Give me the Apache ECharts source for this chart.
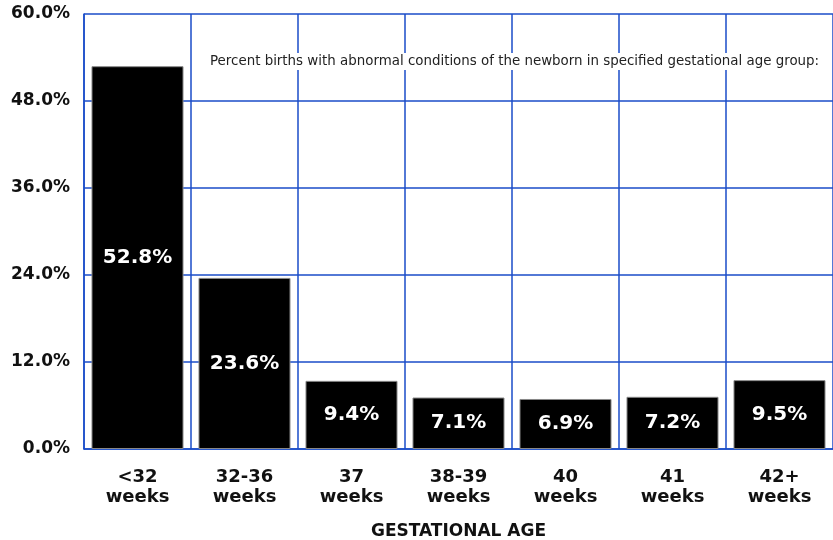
<!DOCTYPE html>
<html>
<head>
<meta charset="utf-8">
<script src="https://cdn.jsdelivr.net/npm/echarts@6/dist/echarts.min.js"></script>
<style>
html,body{margin:0;padding:0;background:#fff;}
#chart{width:833px;height:540px;}
</style>
</head>
<body>
<div id="chart"></div>
<script>
// Gestational age groups and share of births with abnormal newborn conditions
const categories = ['<32\nweeks', '32-36\nweeks', '37\nweeks', '38-39\nweeks', '40\nweeks', '41\nweeks', '42+\nweeks'];
const values = [52.8, 23.6, 9.4, 7.1, 6.9, 7.2, 9.5];
const yTicks = [0, 12, 24, 36, 48, 60];
const note = 'Percent births with abnormal conditions of the newborn in specified gestational age group:';

const font = 'Verdana, "DejaVu Sans", sans-serif';
const gridBlue = '#1a4cc8';
const lineW = 1.5;

const chart = echarts.init(document.getElementById('chart'), null, {renderer: 'canvas'});
chart.setOption({
  animation: false,
  backgroundColor: '#fff',
  grid: {left: 84, right: 0, top: 14, bottom: 91, containLabel: false, outerBoundsMode: 'none'},
  xAxis: {
    type: 'category',
    data: categories,
    name: 'GESTATIONAL AGE',
    nameLocation: 'middle',
    nameGap: 74,
    nameTextStyle: {fontFamily: font, fontWeight: 'bold', fontSize: 17, color: '#111'},
    axisLine: {lineStyle: {color: gridBlue, width: lineW}},
    axisTick: {show: false},
    axisLabel: {fontFamily: font, fontWeight: 'bold', fontSize: 18, color: '#111', lineHeight: 20, margin: 18},
    splitLine: {show: true, lineStyle: {color: gridBlue, width: lineW}}
  },
  yAxis: {
    type: 'value',
    min: yTicks[0],
    max: yTicks[yTicks.length - 1],
    interval: 12,
    axisLine: {show: true, lineStyle: {color: gridBlue, width: lineW}},
    axisTick: {show: false},
    axisLabel: {
      fontFamily: font, fontWeight: 'bold', fontSize: 17, color: '#111', margin: 14,
      formatter: v => v.toFixed(1) + '%'
    },
    splitLine: {show: true, lineStyle: {color: gridBlue, width: lineW}}
  },
  series: [{
    type: 'bar',
    data: values,
    barCategoryGap: '14%',
    itemStyle: {color: '#000', borderColor: '#888', borderWidth: 1},
    label: {
      show: true,
      position: 'inside',
      fontFamily: font,
      fontWeight: 'bold',
      fontSize: 20,
      color: '#fff',
      formatter: p => p.value.toFixed(1) + '%'
    }
  }],
  graphic: [{
    type: 'text',
    left: 208,
    top: 53,
    z: 100,
    style: {
      text: note,
      fontFamily: font,
      fontSize: 13.4,
      fill: '#222',
      backgroundColor: '#fff',
      padding: [2, 2]
    }
  }]
});
</script>
</body>
</html>
